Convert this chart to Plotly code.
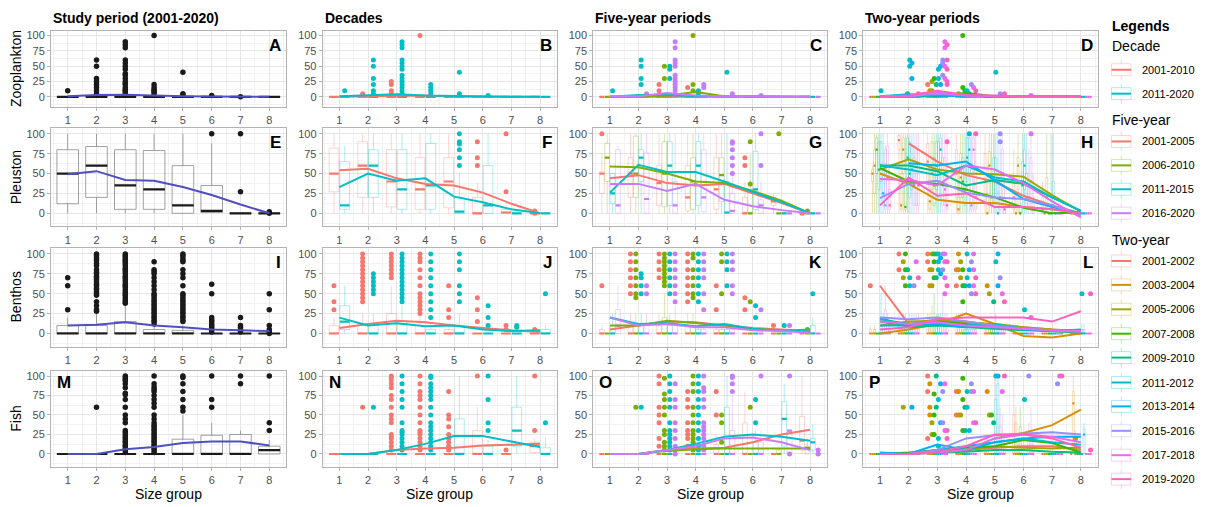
import plotly.graph_objects as go

W, H = 1213, 507
OFF = 8  # browser body margin; the figure is drawn at (8, 8)
FIG_W, FIG_H = W - OFF, H - OFF

SIZE_GROUPS = [1, 2, 3, 4, 5, 6, 7, 8]
Y_TICKS = [0, 25, 50, 75, 100]
TAXA = ["Zooplankton", "Pleuston", "Benthos", "Fish"]
COLUMN_TITLES = ["Study period (2001-2020)", "Decades", "Five-year periods", "Two-year periods"]
PANEL_LETTERS = [["A", "B", "C", "D"], ["E", "F", "G", "H"], ["I", "J", "K", "L"], ["M", "N", "O", "P"]]
X_TITLE = "Size group"

ALL_PERIOD = ["2001-2020"]
DECADES = ["2001-2010", "2011-2020"]
FIVE_YEAR = ["2001-2005", "2006-2010", "2011-2015", "2016-2020"]
TWO_YEAR = ["2001-2002", "2003-2004", "2005-2006", "2007-2008", "2009-2010",
            "2011-2012", "2013-2014", "2015-2016", "2017-2018", "2019-2020"]

ALL_COLORS = ["#1a1a1a"]
ALL_LINE = "#4f4fc2"
DEC_COLORS = ["#F8766D", "#00BFC4"]
FIVE_COLORS = ["#F8766D", "#7CAE00", "#00BFC4", "#C77CFF"]
TWO_COLORS = ["#F8766D", "#D89000", "#A3A500", "#39B600", "#00BF7D",
              "#00BFC4", "#00B0F6", "#9590FF", "#E76BF3", "#FF62BC"]

# ---------------- Zooplankton ----------------
A_q1 = [[0, 0, 0, 0, 0, 0, 0, 0]]
A_med = [[0, 0, 0, 0, 0, 0, 0, 0]]
A_q3 = [[0, 1, 2, 1, 0, 0, 0, 0]]
A_hi = [[0, 2, 4, 2, 0, 0, 0, 0]]
A_mean = [[1, 3, 3.5, 2, 1, 0.5, 0, 0]]
A_out = [[[10], [60, 50, 30, 25, 20, 15, 10, 5], [90, 85, 80, 60, 55, 50, 45, 38, 35, 30, 25, 22, 20, 15, 12, 10, 8, 5],
          [100, 20, 15, 12, 10, 8, 5], [40, 5, 3], [2], [0], []]]

B_q1 = [[0, 0, 0, 0, 0, 0, 0, 0], [0, 0, 0, 0, 0, 0, 0, 0]]
B_med = [[0, 0, 0, 0, 0, 0, 0, 0], [0, 0, 0, 0, 0, 0, 0, 0]]
B_q3 = [[0, 0, 0, 0, 0, 0, 0, 0], [0, 1, 2, 1, 0, 0, 0, 0]]
B_hi = [[0, 0, 0, 0, 0, 0, 0, 0], [0, 2, 4, 2, 0, 0, 0, 0]]
B_mean = [[0, 1, 2, 2, 0, 0, 0, 0], [1, 3, 4, 2, 1, 0, 0, 0]]
B_out = [[[], [5], [25, 20, 10, 5], [100], [], [], [], []],
         [[10], [60, 50, 30, 20, 10, 5], [90, 85, 80, 60, 55, 50, 45, 35, 30, 25, 20, 15, 10, 5], [20, 15, 10, 5], [40, 5], [2], [], []]]

C_q1 = [[0, 0, 0, 0, 0, 0, 0, 0], [0, 0, 0, 0, 0, 0, 0, 0], [0, 0, 0, 0, 0, 0, 0, 0], [0, 0, 0, 0, 0, 0, 0, 0]]
C_med = [[0, 0, 0, 0, 0, 0, 0, 0], [0, 0, 0, 0, 0, 0, 0, 0], [0, 0, 0, 0, 0, 0, 0, 0], [0, 0, 0, 0, 0, 0, 0, 0]]
C_q3 = [[0, 0, 0, 0, 0, 0, 0, 0], [0, 0, 0, 0, 0, 0, 0, 0], [0, 1, 1, 0, 0, 0, 0, 0], [0, 0, 3, 1, 0, 0, 0, 0]]
C_hi = [[0, 0, 0, 0, 0, 0, 0, 0], [0, 0, 0, 0, 0, 0, 0, 0], [0, 2, 2, 0, 0, 0, 0, 0], [0, 0, 6, 2, 0, 0, 0, 0]]
C_mean = [[0, 0, 1, 1, 0, 0, 0, 0], [0, 0, 2, 8, 1, 0, 0, 0], [0, 3, 3, 1, 1, 0, 0, 0], [1, 1, 6, 2, 1, 0, 0, 0]]
C_out = [[[], [], [20, 10], [15], [], [], [], []],
         [[], [], [50, 30], [100, 20, 10], [], [], [], []],
         [[10], [60, 50, 30, 20], [50, 45, 30], [10, 5], [40], [], [], []],
         [[], [5], [90, 80, 60, 55, 50, 35, 30, 25, 20, 15, 10], [20, 15], [5], [2], [], []]]

D_q1 = [[0, 0, 0, 0, 0, 0, 0, 0] for _ in TWO_YEAR]
D_med = [[0, 0, 0, 0, 0, 0, 0, 0] for _ in TWO_YEAR]
D_q3 = [[0, 0, 0, 0, 0, 0, 0, 0] for _ in TWO_YEAR]
D_hi = [[0, 0, 0, 0, 0, 0, 0, 0] for _ in TWO_YEAR]
D_mean = [[0, 1, 2, 1, 0, 0, 0, 0], [0, 0, 1, 2, 0, 0, 0, 0], [0, 1, 3, 1, 0, 0, 0, 0], [0, 0, 2, 6, 1, 0, 0, 0],
          [0, 1, 1, 2, 0, 0, 0, 0], [1, 4, 3, 1, 1, 0, 0, 0], [0, 3, 2, 1, 0, 0, 0, 0], [0, 1, 5, 2, 1, 0, 0, 0],
          [1, 1, 8, 2, 1, 0, 0, 0], [0, 2, 10, 3, 2, 0, 0, 0]]
D_out = [[[], [], [20], [], [], [], [], []], [[], [], [10], [5], [], [], [], []], [[], [], [25, 10], [], [], [], [], []],
         [[], [], [30], [100, 15], [], [], [], []], [[], [5], [20], [10], [], [], [], []],
         [[10], [60, 50], [45, 30], [10], [40], [], [], []], [[], [55, 30], [50, 20], [5], [], [], [], []],
         [[], [], [60, 55, 35], [20], [5], [], [], []], [[], [], [90, 80, 50, 30], [15], [], [2], [], []],
         [[], [5], [85, 60, 45, 25, 20], [10], [5], [], [], []]]

# ---------------- Pleuston ----------------
E_q1 = [[12, 20, 5, 5, 0, 1, 0, 0]]
E_med = [[50, 60, 35, 30, 10, 3, 0, 0]]
E_q3 = [[80, 84, 80, 79, 60, 35, 0, 0]]
E_hi = [[100, 100, 100, 100, 100, 88, 0, 0]]
E_mean = [[49, 53, 42, 41, 33, 23, 11, 0]]
E_out = [[[], [], [], [], [], [100], [100, 27], [2, 0]]]

F_q1 = [[27, 20, 8, 5, 7, 0, 0, 0], [5, 20, 5, 5, 0, 0, 0, 0]]
F_med = [[50, 60, 40, 30, 40, 0, 1, 0], [10, 60, 30, 35, 2, 10, 0, 0]]
F_q3 = [[82, 90, 80, 70, 70, 20, 5, 0], [65, 80, 80, 88, 20, 60, 0, 0]]
F_hi = [[100, 100, 100, 100, 100, 38, 10, 0], [85, 100, 100, 100, 50, 100, 0, 0]]
F_mean = [[54, 56, 44, 37, 35, 26, 12, 0], [33, 50, 41, 44, 21, 14, 5, 0]]
F_out = [[[], [], [], [], [], [90, 70, 60], [100, 27], [3, 0]],
         [[], [], [], [], [100, 90, 87, 80, 70, 60], [], [], []]]

G_q1 = [[25, 20, 10, 3, 5, 0, 10, 0], [40, 20, 8, 5, 15, 0, 0, 0], [12, 40, 10, 10, 0, 5, 0, 0], [0, 0, 0, 2, 0, 0, 0, 0]]
G_med = [[50, 50, 38, 20, 30, 0, 15, 0], [70, 50, 50, 40, 48, 0, 0, 0], [25, 70, 60, 60, 1, 30, 0, 0], [10, 18, 10, 20, 3, 10, 0, 0]]
G_q3 = [[52, 70, 60, 60, 70, 20, 20, 0], [88, 97, 90, 70, 70, 30, 0, 0], [50, 80, 90, 90, 40, 78, 0, 0], [80, 76, 40, 80, 25, 17, 0, 0]]
G_hi = [[75, 100, 100, 100, 100, 40, 25, 0], [100, 100, 100, 100, 100, 75, 0, 0], [50, 100, 100, 100, 100, 100, 0, 0], [85, 100, 100, 100, 60, 40, 0, 0]]
G_mean = [[44, 48, 38, 35, 37, 25, 13, 0], [59, 58, 50, 40, 38, 28, 16, 0], [26, 61, 52, 52, 40, 27, 14, 0], [37, 37, 28, 37, 17, 9, 4, 0]]
G_out = [[[100], [], [], [], [], [70, 60], [], [0]], [[], [], [], [], [], [90, 37], [100], [3]],
         [[], [], [], [], [], [], [], []], [[], [], [], [], [90, 88, 80, 70, 60, 50], [100, 60], [], []]]

H_q1 = [[None, 80, 30, 20, 10, 5, 0, 0], [40, 5, 5, 0, 0, 0, 0, 0], [25, 50, 30, 20, 40, 30, 0, 0], [50, 5, 10, 20, 10, 0, 0, 0],
        [30, 40, 30, 10, 20, 20, 0, 0], [40, 20, 20, 40, 20, 30, 0, 0], [10, 30, 50, 50, 0, 5, 0, 0], [5, 10, 10, 5, 5, 5, 0, 0],
        [20, 10, 10, 60, 30, 20, 0, 0], [5, 10, 5, 5, 0, 0, 0, 0]]
H_med = [[None, 92, 65, 50, 40, 20, 5, 0], [50, 10, 15, 5, 0, 0, 0, 0], [60, 80, 50, 45, 60, 60, 20, 0], [80, 8, 35, 40, 20, 0, 0, 0],
         [55, 70, 60, 30, 40, 35, 0, 0], [60, 50, 40, 70, 40, 60, 10, 0], [25, 55, 80, 80, 0, 20, 0, 0], [10, 35, 35, 10, 20, 20, 0, 0],
         [45, 40, 30, 80, 50, 40, 0, 0], [10, 35, 10, 20, 5, 5, 0, 0]]
H_q3 = [[None, 98, 88, 80, 75, 45, 20, 0], [55, 50, 30, 20, 25, 10, 0, 0], [80, 95, 90, 75, 78, 70, 45, 0], [95, 40, 70, 70, 45, 10, 0, 0],
        [90, 95, 90, 60, 70, 65, 0, 0], [90, 90, 90, 95, 70, 80, 40, 0], [60, 85, 95, 95, 45, 50, 0, 0], [80, 70, 70, 55, 45, 40, 0, 0],
        [85, 80, 70, 95, 80, 70, 0, 0], [30, 80, 50, 60, 20, 20, 0, 0]]
H_hi = [[None, 100, 100, 100, 100, 80, 40, 0], [60, 100, 60, 50, 60, 25, 0, 0], [100, 100, 100, 100, 100, 100, 100, 0], [100, 100, 100, 100, 100, 25, 0, 0],
        [100, 100, 100, 100, 100, 100, 100, 0], [100, 100, 100, 100, 100, 100, 100, 0], [100, 100, 100, 100, 100, 100, 0, 0], [85, 100, 100, 100, 100, 80, 0, 0],
        [100, 100, 100, 100, 100, 100, 0, 0], [60, 100, 100, 100, 50, 50, 0, 0]]
H_mean = [[None, 88, 65, 48, 40, 22, 10, 0], [50, 37, 17, 13, 13, 8, 5, 0], [55, 68, 55, 50, 49, 46, 23, 2], [57, 40, 37, 30, 20, 7, 0, 1],
          [60, 60, 53, 35, 42, 37, 20, 3], [60, 55, 48, 60, 45, 40, 20, 3], [None, 63, 60, 65, 42, 18, 8, 0], [19, 37, 41, 26, 20, 18, 10, -3],
          [43, 42, 35, 60, 55, 38, 15, -5], [10, 45, 22, 25, 8, 8, 5, 0]]
H_out = [[[], [], [], [], [], [], [], []], [[], [], [], [], [], [], [], []], [[], [], [], [], [], [], [], []], [[], [], [], [], [], [], [], []],
         [[], [], [], [], [], [], [], []], [[], [], [], [], [], [], [], []], [[], [], [], [100], [], [], [], []], [[], [], [], [], [100, 90], [], [], []],
         [[], [], [], [], [], [100], [], []], [[], [], [90], [100], [], [], [], []]]

# ---------------- Benthos ----------------
I_q1 = [[0, 0, 0, 0, 0, 0, 0, 0]]
I_med = [[0, 0, 0, 0, 0, 0, 0, 0]]
I_q3 = [[10, 10, 15, 5, 4, 0, 0, 0]]
I_hi = [[20, 25, 37, 12, 10, 0, 0, 0]]
I_mean = [[10, 11, 14, 10, 8, 5, 4, 3]]
I_out = [[[70, 60, 30],
          [100, 98, 95, 92, 88, 85, 80, 77, 75, 72, 70, 68, 65, 62, 60, 57, 55, 52, 50, 48, 40, 35, 30, 28],
          [100, 98, 96, 94, 92, 90, 88, 85, 82, 80, 78, 75, 72, 70, 68, 65, 62, 60, 58, 55, 52, 50, 48, 45, 42, 40, 38],
          [90, 80, 78, 75, 70, 65, 60, 55, 50, 48, 45, 42, 40, 37, 35, 32, 30, 27, 25, 22, 20, 17, 15, 12],
          [100, 98, 95, 92, 90, 80, 75, 70, 60, 50, 48, 45, 42, 40, 37, 35, 32, 30, 27, 25, 22, 20, 17, 15],
          [62, 50, 20, 17, 15, 12, 10, 8, 5, 2], [20, 10, 8, 5, 2], [50, 30, 10, 5, 2, 0]]]

J_q1 = [[0, 0, 0, 0, 0, 0, 0, 0], [5, 0, 0, 0, 0, 0, 0, 0]]
J_med = [[0, 0, 0, 0, 0, 0, 0, 0], [15, 0, 0, 0, 0, 0, 0, 0]]
J_q3 = [[10, 10, 25, 10, 5, 0, 0, 0], [35, 10, 15, 5, 10, 0, 0, 5]]
J_hi = [[20, 25, 60, 25, 12, 0, 0, 0], [60, 25, 35, 12, 25, 0, 0, 10]]
J_mean = [[7, 12, 16, 14, 10, 7, 4, 2], [20, 10, 13, 9, 10, 5, 3, 4]]
J_out = [[[60, 40, 30], [100, 95, 90, 85, 80, 75, 70, 65, 60, 55, 50, 45, 40], [100, 95, 90, 85, 80, 75, 70],
          [100, 95, 90, 80, 70, 60, 50, 45, 40, 35, 30, 25], [60, 30, 20], [45, 30, 15], [10, 5], [5]],
         [[], [75, 70, 65, 60, 55, 50], [100, 95, 90, 85, 80, 75, 70, 65, 60, 55, 50, 45, 40],
          [100, 90, 80, 70, 60, 50, 40, 30, 20], [100, 90, 80, 60, 50, 40], [35, 20, 10], [10, 8], [50]]]

K_q1 = [[0, 0, 0, 0, 0, 0, 0, 0], [0, 0, 0, 0, 0, 0, 0, 0], [0, 0, 0, 0, 0, 0, 0, 0], [0, 0, 0, 0, 0, 0, 0, 0]]
K_med = [[0, 0, 0, 0, 0, 0, 0, 0], [0, 0, 0, 0, 0, 0, 0, 0], [0, 0, 0, 0, 0, 0, 0, 0], [10, 0, 0, 0, 0, 0, 0, 0]]
K_q3 = [[5, 10, 10, 10, 5, 0, 0, 0], [0, 10, 20, 10, 5, 0, 0, 0], [10, 10, 10, 5, 5, 0, 0, 10], [30, 10, 15, 5, 5, 0, 0, 0]]
K_hi = [[10, 25, 25, 25, 10, 0, 0, 0], [0, 25, 50, 25, 10, 0, 0, 0], [25, 25, 25, 10, 12, 0, 0, 20], [60, 25, 35, 12, 12, 0, 0, 0]]
K_mean = [[5, 10, 15, 14, 10, 7, 5, 3], [10, 10, 16, 13, 10, 6, 4, 2], [20, 12, 13, 9, 12, 6, 3, 5], [20, 10, 12, 8, 8, 4, 3, 1]]
K_out = [[[60], [100, 90, 80, 70, 60, 50], [100, 90, 80, 70], [100, 90, 80, 70, 60, 50, 40], [60, 30], [45, 30], [10], []],
         [[], [100, 90, 80, 70, 60, 50, 45], [100, 95, 90, 85, 80, 75, 70, 65, 60], [100, 95, 80, 70, 60, 50, 45], [100, 90, 50], [40], [], [5]],
         [[], [75, 70, 60, 50], [100, 90, 80, 70, 60, 50], [100, 90, 80, 70, 60, 50, 40], [100, 90, 80, 60], [35, 20], [10], [50]],
         [[], [60, 50], [100, 90, 80, 70, 60, 50, 40], [100, 90, 80, 70, 50, 30], [100, 90, 80, 60, 50], [30], [10], []]]

L_q1 = [[0, 0, 0, 0, 0, 0, 0, 0] for _ in TWO_YEAR]
L_med = [[0, 0, 0, 0, 0, 0, 0, 0] for _ in TWO_YEAR]
L_q3 = [[5, 10, 10, 10, 5, 0, 0, 0], [0, 5, 10, 10, 5, 0, 0, 0], [5, 10, 15, 10, 5, 0, 0, 0], [0, 10, 20, 10, 5, 0, 0, 0],
        [0, 5, 10, 5, 5, 0, 0, 0], [20, 10, 10, 5, 10, 0, 0, 5], [10, 10, 10, 5, 5, 0, 0, 5], [30, 10, 20, 5, 5, 0, 0, 0],
        [10, 10, 10, 5, 5, 0, 0, 0], [5, 10, 10, 5, 5, 0, 0, 0]]
L_hi = [[10, 25, 25, 25, 10, 0, 0, 0], [0, 12, 25, 25, 12, 0, 0, 0], [10, 25, 35, 25, 10, 0, 0, 0], [0, 25, 50, 25, 10, 0, 0, 0],
        [0, 12, 25, 12, 10, 0, 0, 0], [50, 25, 25, 12, 25, 0, 0, 12], [25, 25, 25, 12, 12, 0, 0, 12], [60, 25, 50, 12, 12, 0, 0, 0],
        [25, 25, 25, 12, 12, 0, 0, 0], [10, 25, 25, 12, 12, 0, 0, 0]]
L_mean = [[60, 12, 18, 15, 10, 8, 5, 2], [0, 5, 12, 25, 12, -3, -5, 0], [10, 15, 16, 14, 12, 8, 5, 3], [15, 10, 15, 12, 8, 5, 3, 1],
          [20, 8, 10, 8, 6, 4, 3, 2], [18, 12, 14, 10, 12, 6, 3, 5], [10, 10, 12, 8, 10, 5, 4, 4], [20, 18, 20, 15, 10, 6, 4, 2],
          [15, 12, 14, 10, 8, 6, 4, 3], [5, 8, 18, 20, 20, 20, 15, 28]]
L_out = [[[60], [100, 80], [100, 90], [80, 60], [], [], [], []], [[], [], [80, 60], [100, 80], [60], [], [], []],
         [[], [90, 70], [100, 80, 60], [90, 70], [50], [], [], []], [[], [100, 80, 60], [100, 90, 70], [80, 60, 40], [], [], [], []],
         [[], [80], [100, 70], [60], [40], [], [], []], [[], [70, 60], [100, 90, 80], [100, 70], [90], [30], [], [50]],
         [[], [], [95, 75], [80, 60], [100, 60], [], [], []], [[], [60], [100, 80], [90, 50], [70], [], [], []],
         [[], [90], [100, 90, 70, 50], [100, 80, 60], [50], [20], [], []], [[], [70], [90, 60], [70, 50], [40], [], [], [50]]]

# ---------------- Fish ----------------
M_q1 = [[0, 0, 0, 0, 0, 0, 0, 0]]
M_med = [[0, 0, 0, 0, 0, 0, 0, 5]]
M_q3 = [[0, 0, 0, 0, 19, 24, 25, 10]]
M_hi = [[0, 0, 0, 0, 50, 40, 30, 18]]
M_mean = [[0, 0, 6, 9, 14, 16, 16, 11]]
M_out = [[[], [60],
          [100, 98, 96, 94, 90, 85, 78, 76, 70, 60, 50, 45, 40, 30, 28, 25, 22, 20, 17, 15, 12, 10, 7, 5, 2],
          [100, 90, 86, 83, 80, 75, 70, 65, 60, 50, 45, 40, 37, 35, 32, 30, 27, 25, 22, 20, 17, 15, 12, 10, 7, 5, 2],
          [100, 98, 90, 80, 70, 60, 55], [100, 70, 60], [100, 90], [100, 40, 30]]]

N_q1 = [[0, 0, 0, 0, 0, 0, 0, 2], [0, 0, 0, 0, 0, 0, 10, 0]]
N_med = [[0, 0, 0, 0, 0, 0, 0, 10], [0, 0, 0, 0, 0, 0, 30, 0]]
N_q3 = [[0, 0, 0, 0, 0, 30, 0, 15], [0, 0, 0, 0, 45, 10, 60, 8]]
N_hi = [[0, 0, 0, 0, 0, 60, 0, 20], [0, 0, 0, 0, 100, 18, 100, 20]]
N_mean = [[0, 0, 5, 7, 8, 11, 12, 13], [0, 0, 5, 13, 23, 23, 16, 9]]
N_out = [[[], [60], [100, 98, 95, 90, 85, 75, 70, 60, 50, 45, 40, 25, 22, 20, 15, 10, 5],
          [100, 90, 80, 75, 70, 60, 50, 40, 30, 28, 25, 20, 15, 10, 5], [80, 50, 45, 35, 25, 20, 15, 10, 5], [100], [5], [100, 30]],
         [[], [60], [100, 90, 80, 70, 60, 40, 30, 28, 25, 20, 15, 10, 5],
          [100, 98, 90, 85, 80, 75, 70, 60, 50, 40, 35, 30, 25, 20, 15, 10, 5], [], [100, 70, 40, 30], [], [40]]]

O_q1 = [[0, 0, 0, 0, 0, 0, 0, 5], [0, 0, 0, 0, 0, 0, 0, 0], [0, 0, 0, 0, 0, 0, 10, 5], [0, 0, 0, 0, 0, 0, 0, 0]]
O_med = [[0, 0, 0, 0, 0, 0, 0, 17], [0, 0, 0, 0, 0, 0, 0, 8], [0, 0, 0, 0, 0, 0, 45, 15], [0, 0, 0, 0, 0, 0, 30, 0]]
O_q3 = [[0, 0, 0, 0, 12, 40, 0, 48], [0, 0, 0, 0, 0, 0, 5, 10], [0, 0, 0, 0, 60, 15, 67, 20], [0, 0, 0, 0, 30, 15, 30, 0]]
O_hi = [[0, 0, 0, 0, 25, 80, 0, 100], [0, 0, 0, 0, 0, 0, 10, 20], [0, 0, 0, 0, 100, 30, 90, 38], [0, 0, 0, 0, 75, 30, 30, 0]]
O_mean = [[0, 0, 5, 7, 8, 15, 25, 31], [0, 0, 4, 6, 7, 7, 7, 7], [0, 0, 5, 13, 22, 25, 22, 17], [0, 0, 5, 10, 20, 21, 15, 5]]
O_out = [[[], [], [100, 90, 60, 50, 40, 20, 10], [80, 70, 60, 40, 30, 25, 20, 10], [80, 50], [], [], []],
         [[], [60], [97, 77, 70, 60, 50, 30, 25, 15, 10, 5], [100, 90, 80, 60, 50, 40, 30, 25, 20, 15, 10, 5], [50, 40, 15], [60], [], []],
         [[], [60], [100, 90, 80, 70, 60, 40, 30, 25, 20, 15, 10, 5], [100, 90, 80, 70, 60, 50, 40, 30, 20, 10, 5], [], [70, 40], [], []],
         [[], [], [90, 70, 60, 40, 30, 20, 10, 5, 0], [100, 85, 80, 70, 60, 40, 35, 30, 25, 20, 10, 5], [100, 98, 90, 80], [100], [100, 0], [5, 0]]]

P_q1 = [[0, 0, 0, 0, 0, 0, 0, 0] for _ in TWO_YEAR]
P_med = [[0, 0, 0, 0, 0, 0, 0, 0], [0, 0, 0, 0, 0, 0, 0, 65], [0, 0, 0, 0, 0, 0, 0, 0], [0, 0, 0, 0, 0, 0, 0, 0], [0, 0, 0, 0, 0, 0, 0, 0],
         [0, 0, 0, 0, 0, 0, 0, 0], [0, 0, 0, 0, 0, 0, 0, 25], [0, 0, 0, 0, 0, 0, 0, 0], [0, 0, 0, 0, 0, 0, 0, 0], [0, 0, 0, 0, 0, 0, 0, 0]]
P_q3 = [[0, 0, 0, 0, 10, 50, 0, 0], [0, 0, 0, 0, 10, 40, 0, 80], [0, 0, 0, 0, 0, 10, 0, 20], [0, 0, 0, 0, 0, 35, 0, 0], [0, 0, 0, 0, 0, 0, 0, 0],
        [0, 0, 0, 0, 70, 0, 0, 0], [0, 0, 0, 0, 90, 0, 0, 32], [0, 0, 0, 0, 35, 20, 0, 0], [0, 0, 0, 0, 25, 30, 0, 0], [0, 0, 0, 0, 10, 10, 0, 0]]
P_hi = [[0, 0, 0, 0, 25, 100, 0, 0], [0, 0, 0, 0, 25, 60, 0, 100], [0, 0, 0, 0, 0, 25, 0, 30], [0, 0, 0, 0, 0, 60, 0, 0], [0, 0, 0, 0, 0, 0, 0, 0],
        [0, 0, 0, 0, 100, 0, 0, 0], [0, 0, 0, 0, 100, 0, 0, 40], [0, 0, 0, 0, 60, 40, 0, 0], [0, 0, 0, 0, 50, 60, 0, 0], [0, 0, 0, 0, 20, 25, 0, 0]]
P_mean = [[0, 0, 3, 5, 8, 10, 10, 5], [0, 0, 2, 5, 20, 27, 37, 57], [0, 0, 5, 5, 10, 8, 7, 8], [0, 2, 5, 8, 10, 18, 14, 2],
          [0, 0, 2, 3, 5, 5, 3, 2], [0, 0, 5, 10, 15, 20, 15, 12], [2, 0, 12, 5, 15, 20, 22, 22], [0, 0, 5, 20, 24, 26, 28, 25],
          [0, 0, 2, 5, 20, 25, 22, 15], [0, 0, 3, 10, 25, 25, 20, 8]]
P_out = [[[], [], [100, 80, 20], [80, 50], [], [], [], []], [[], [], [90, 60, 50], [80, 50], [80], [], [], []],
         [[], [60], [40, 25], [50], [50], [], [], [20]], [[], [], [77, 50, 25], [97, 70, 30], [50], [], [], []],
         [[], [], [100, 60], [60, 30], [40], [], [], []], [[], [], [70, 20, 10], [80, 60], [100], [70], [], []],
         [[], [60], [90, 40], [30], [100], [], [], []], [[], [], [80, 40], [90, 80], [], [100], [90], []],
         [[], [], [90, 30], [80, 40], [80], [], [100], []], [[], [], [30, 20], [40], [100], [], [100], [5]]]

PANELS = [
    [(ALL_PERIOD, ALL_COLORS, A_q1, A_med, A_q3, A_hi, A_mean, A_out),
     (DECADES, DEC_COLORS, B_q1, B_med, B_q3, B_hi, B_mean, B_out),
     (FIVE_YEAR, FIVE_COLORS, C_q1, C_med, C_q3, C_hi, C_mean, C_out),
     (TWO_YEAR, TWO_COLORS, D_q1, D_med, D_q3, D_hi, D_mean, D_out)],
    [(ALL_PERIOD, ALL_COLORS, E_q1, E_med, E_q3, E_hi, E_mean, E_out),
     (DECADES, DEC_COLORS, F_q1, F_med, F_q3, F_hi, F_mean, F_out),
     (FIVE_YEAR, FIVE_COLORS, G_q1, G_med, G_q3, G_hi, G_mean, G_out),
     (TWO_YEAR, TWO_COLORS, H_q1, H_med, H_q3, H_hi, H_mean, H_out)],
    [(ALL_PERIOD, ALL_COLORS, I_q1, I_med, I_q3, I_hi, I_mean, I_out),
     (DECADES, DEC_COLORS, J_q1, J_med, J_q3, J_hi, J_mean, J_out),
     (FIVE_YEAR, FIVE_COLORS, K_q1, K_med, K_q3, K_hi, K_mean, K_out),
     (TWO_YEAR, TWO_COLORS, L_q1, L_med, L_q3, L_hi, L_mean, L_out)],
    [(ALL_PERIOD, ALL_COLORS, M_q1, M_med, M_q3, M_hi, M_mean, M_out),
     (DECADES, DEC_COLORS, N_q1, N_med, N_q3, N_hi, N_mean, N_out),
     (FIVE_YEAR, FIVE_COLORS, O_q1, O_med, O_q3, O_hi, O_mean, O_out),
     (TWO_YEAR, TWO_COLORS, P_q1, P_med, P_q3, P_hi, P_mean, P_out)],
]

# ---------------- layout geometry (page pixels) ----------------
COL_PX = [(51, 286), (322.7, 556.7), (593.3, 826.7), (863.3, 1097.5)]
ROW_PX = [(29.3, 105.3), (126.7, 225.3), (247.3, 346.0), (370.0, 466.7)]
X_RANGE = [0.42, 8.58]
Y_RANGE = [-16.5, 107]
FONT = "Liberation Sans, Arial, sans-serif"
BORDER = "#b3b3b3"
GRID = "#e6e6e6"
MINOR = "#f2f2f2"


def fx(p):
    return (p - OFF) / FIG_W


def fy(p):
    return 1 - (p - OFF) / FIG_H


def hex_rgba(h, a):
    h = h.lstrip("#")
    return "rgba(%d,%d,%d,%.2f)" % (int(h[0:2], 16), int(h[2:4], 16), int(h[4:6], 16), a)


fig = go.Figure()
layout = dict(width=FIG_W, height=FIG_H, margin=dict(l=0, r=0, t=0, b=0),
              paper_bgcolor="white", plot_bgcolor="white", showlegend=False,
              boxmode="overlay", font=dict(family=FONT, color="#4d4d4d", size=11))
annotations = []
shapes = []

for r in range(4):
    for c in range(4):
        idx = r * 4 + c + 1
        xa, ya = "x%d" % idx, "y%d" % idx
        x0, x1 = COL_PX[c]
        y0, y1 = ROW_PX[r]
        layout["xaxis%d" % idx] = dict(
            domain=[fx(x0), fx(x1)], anchor=ya, range=X_RANGE, type="linear",
            tickvals=SIZE_GROUPS, ticktext=[str(s) for s in SIZE_GROUPS],
            ticks="outside", ticklen=3, tickcolor=BORDER, tickfont=dict(size=11, color="#4d4d4d"),
            ticklabelstandoff=0,
            showgrid=True, gridcolor=GRID, gridwidth=0.8, zeroline=False,
            minor=dict(showgrid=True, gridcolor=MINOR, tick0=0.5, dtick=1, gridwidth=0.5),
            showline=True, linecolor=BORDER, linewidth=1, mirror=True, fixedrange=True)
        layout["yaxis%d" % idx] = dict(
            domain=[fy(y1), fy(y0)], anchor=xa, range=Y_RANGE, type="linear",
            tickvals=Y_TICKS, ticks="outside", ticklen=3, tickcolor=BORDER,
            tickfont=dict(size=11, color="#4d4d4d"),
            showgrid=True, gridcolor=GRID, gridwidth=0.8, zeroline=False,
            minor=dict(showgrid=True, gridcolor=MINOR, tick0=12.5, dtick=25, gridwidth=0.5),
            showline=True, linecolor=BORDER, linewidth=1, mirror=True, fixedrange=True)

        groups, colors, q1s, meds, q3s, his, means, outs = PANELS[r][c]
        n = len(groups)
        single = n == 1
        slot = 0.75 / n
        bw = slot if single else slot * 0.9
        box_traces, med_traces, pt_traces, line_traces = [], [], [], []
        for i in range(n):
            col = colors[i]
            pos = [s + (i - (n - 1) / 2) * slot for s in SIZE_GROUPS]
            keep = [k for k in range(len(SIZE_GROUPS)) if meds[i][k] is not None]
            bx = [pos[k] for k in keep]
            q1 = [q1s[i][k] for k in keep]
            md = [meds[i][k] for k in keep]
            q3 = [q3s[i][k] for k in keep]
            hi = [his[i][k] for k in keep]
            lo = [min(0, q1s[i][k]) for k in keep]
            box_col = "#8a8a8a" if single else hex_rgba(col, 0.35)
            med_col = "#1a1a1a" if single else col
            box_traces.append(go.Box(
                x=bx, q1=q1, median=md, q3=q3, lowerfence=lo, upperfence=hi,
                width=bw, whiskerwidth=0, boxpoints=False, fillcolor="rgba(255,255,255,0)",
                line=dict(color=box_col, width=0.8 if single else 0.9), xaxis=xa, yaxis=ya,
                hoverinfo="skip", name=groups[i]))
            med_traces.append(go.Box(
                x=bx, q1=md, median=md, q3=md, lowerfence=md, upperfence=md,
                width=bw, whiskerwidth=0, boxpoints=False, fillcolor="rgba(255,255,255,0)",
                line=dict(color=med_col, width=2.2), xaxis=xa, yaxis=ya,
                hoverinfo="skip", name=groups[i]))
            ox, oy = [], []
            for k in range(len(SIZE_GROUPS)):
                for v in outs[i][k]:
                    ox.append(pos[k])
                    oy.append(v)
            pt_traces.append(go.Scatter(
                x=ox, y=oy, mode="markers", xaxis=xa, yaxis=ya, hoverinfo="skip",
                marker=dict(color=med_col, size=5.5 if single else 5, line=dict(width=0))))
            line_traces.append(go.Scatter(
                x=SIZE_GROUPS, y=means[i], mode="lines", xaxis=xa, yaxis=ya, hoverinfo="skip",
                line=dict(color=ALL_LINE if single else col, width=2)))
        for t in box_traces + med_traces + pt_traces + line_traces:
            fig.add_trace(t)

        letter = PANEL_LETTERS[r][c]
        if r < 3:
            annotations.append(dict(x=fx(x1 - 3), y=fy(y0 + 14), xref="paper", yref="paper",
                                    text="<b>%s</b>" % letter, showarrow=False, xanchor="right", yanchor="middle",
                                    font=dict(size=17, color="black", family=FONT)))
        else:
            annotations.append(dict(x=fx(x0 + 4), y=fy(y0 + 12), xref="paper", yref="paper",
                                    text="<b>%s</b>" % letter, showarrow=False, xanchor="left", yanchor="middle",
                                    font=dict(size=17, color="black", family=FONT)))

for c in range(4):
    annotations.append(dict(x=fx(COL_PX[c][0]), y=fy(16), xref="paper", yref="paper",
                            text="<b>%s</b>" % COLUMN_TITLES[c], showarrow=False, xanchor="left", yanchor="middle",
                            font=dict(size=14, color="black", family=FONT)))
for r in range(4):
    yc = (ROW_PX[r][0] + ROW_PX[r][1]) / 2
    annotations.append(dict(x=fx(16), y=fy(yc), xref="paper", yref="paper", text=TAXA[r],
                            showarrow=False, textangle=-90, xanchor="center", yanchor="middle",
                            font=dict(size=14, color="black", family=FONT)))
for c in range(4):
    xc = (COL_PX[c][0] + COL_PX[c][1]) / 2
    annotations.append(dict(x=fx(xc), y=fy(494), xref="paper", yref="paper", text=X_TITLE,
                            showarrow=False, xanchor="center", yanchor="middle",
                            font=dict(size=14, color="black", family=FONT)))

LEG_X0, LEG_X1, LEG_TX = 1111.5, 1131, 1140
annotations.append(dict(x=fx(1110), y=fy(24), xref="paper", yref="paper", text="<b>Legends</b>",
                        showarrow=False, xanchor="left", yanchor="middle", font=dict(size=14, color="black", family=FONT)))
legend_blocks = [("Decade", 44, DECADES, DEC_COLORS, [68, 92]),
                 ("Five-year", 118, FIVE_YEAR, FIVE_COLORS, [140, 164, 188, 212]),
                 ("Two-year", 238.5, TWO_YEAR, TWO_COLORS, [260, 284, 308.5, 333, 357, 382, 406, 430.5, 455, 479])]
for title, ty, labels, cols, ys in legend_blocks:
    annotations.append(dict(x=fx(1110), y=fy(ty), xref="paper", yref="paper", text=title,
                            showarrow=False, xanchor="left", yanchor="middle", font=dict(size=14, color="black", family=FONT)))
    for lab, col, yy in zip(labels, cols, ys):
        faint = hex_rgba(col, 0.35)
        xm = (LEG_X0 + LEG_X1) / 2
        shapes.append(dict(type="line", xref="paper", yref="paper", x0=fx(xm), x1=fx(xm),
                           y0=fy(yy - 10), y1=fy(yy + 10), line=dict(color=faint, width=0.9)))
        shapes.append(dict(type="rect", xref="paper", yref="paper", x0=fx(LEG_X0), x1=fx(LEG_X1),
                           y0=fy(yy - 6), y1=fy(yy + 6), line=dict(color=faint, width=0.9),
                           fillcolor="white"))
        shapes.append(dict(type="line", xref="paper", yref="paper", x0=fx(LEG_X0), x1=fx(LEG_X1),
                           y0=fy(yy), y1=fy(yy), line=dict(color=col, width=2)))
        annotations.append(dict(x=fx(LEG_TX), y=fy(yy), xref="paper", yref="paper", text=lab,
                                showarrow=False, xanchor="left", yanchor="middle",
                                font=dict(size=11, color="black", family=FONT)))

layout["annotations"] = annotations
layout["shapes"] = shapes
fig.update_layout(**layout)
fig.write_html("out.html")
